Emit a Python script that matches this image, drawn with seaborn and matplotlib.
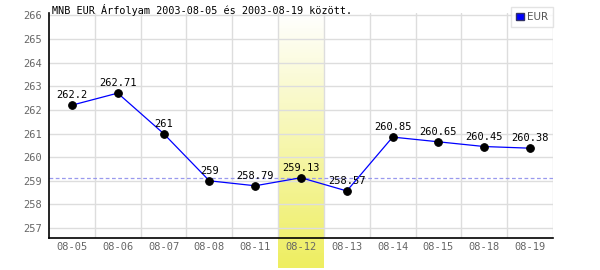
import numpy as np
import pandas as pd
import matplotlib
matplotlib.use("Agg")
import matplotlib.pyplot as plt
import matplotlib.transforms as mtransforms
from matplotlib.patches import Patch
from matplotlib.colors import LinearSegmentedColormap
import seaborn as sns

dates = ["08-05", "08-06", "08-07", "08-08", "08-11", "08-12", "08-13",
         "08-14", "08-15", "08-18", "08-19"]
values = [262.2, 262.71, 261, 259, 258.79, 259.13, 258.57,
          260.85, 260.65, 260.45, 260.38]
labels = ["262.2", "262.71", "261", "259", "258.79", "259.13", "258.57",
          "260.85", "260.65", "260.45", "260.38"]
highlight_date = "08-12"
reference_value = 259.13
yticks = list(range(257, 267))
title = "MNB EUR Árfolyam 2003-08-05 és 2003-08-19 között."
series_name = "EUR"

df = pd.DataFrame({"date": dates, "value": values})

sns.set_theme(style="white")
plt.rcParams["font.family"] = ["DejaVu Sans Mono", "DejaVu Sans"]

fig = plt.figure(figsize=(6, 2.7), dpi=100)
ax = fig.add_axes([49/600, 1-238/270, (553-49)/600, (238-13)/270])

# highlight band with gradient
hi = dates.index(highlight_date)
cmap = LinearSegmentedColormap.from_list("yl", ["#ffffff", "#eeee60"])
grad = np.linspace(0, 1, 256).reshape(-1, 1)
trans = mtransforms.blended_transform_factory(ax.transData, ax.transAxes)
ax.imshow(grad, cmap=cmap, aspect="auto", transform=trans,
          extent=(hi-0.5, hi+0.5, -30/225, 1.0), origin="upper",
          clip_on=False, zorder=0, interpolation="bilinear")

# grid
for yv in yticks:
    ax.axhline(yv, color="#dddddd", lw=1, zorder=1)
for i in range(len(dates)):
    ax.axvline(i + 0.5, color="#dddddd", lw=1, zorder=1)

ax.axhline(reference_value, color="#9999ee", lw=0.9, ls=(0, (3, 2)), zorder=2)

sns.lineplot(data=df, x="date", y="value", ax=ax, color="#0000ff", lw=0.9,
             marker="o", markersize=5.5, markerfacecolor="black",
             markeredgecolor="black", zorder=3, sort=False)

for i, (v, lab) in enumerate(zip(values, labels)):
    ax.annotate(lab, (i, v), xytext=(0, 3.5), textcoords="offset points",
                ha="center", va="bottom", fontsize=7.5, color="black", zorder=4)

ax.set_xlim(-0.5, len(dates) - 0.5)
ax.set_ylim(256.58, 266.1)
ax.set_yticks(yticks)
ax.set_xlabel("")
ax.set_ylabel("")
ax.tick_params(axis="both", length=0, labelsize=7.5, colors="#666666", pad=5)
ax.tick_params(axis="x", pad=3)
for s in ["top", "right"]:
    ax.spines[s].set_visible(False)
for s in ["left", "bottom"]:
    ax.spines[s].set_color("black")
    ax.spines[s].set_linewidth(1.2)

fig.text(52/600, 1-10/270, title, fontsize=7.3, color="black", va="center", ha="left")

leg = fig.legend(handles=[Patch(facecolor="#0000ff", edgecolor="#333366", label=series_name)],
                 loc="upper right", bbox_to_anchor=(553/600, 1-7/270),
                 bbox_transform=fig.transFigure, frameon=True, fancybox=False,
                 edgecolor="#dddddd", fontsize=7.5, handlelength=0.7, handleheight=0.7,
                 handletextpad=0.3, borderpad=0.5, borderaxespad=0,
                 prop={"family": "DejaVu Sans", "size": 7.5})
for t in leg.get_texts():
    t.set_color("#555555")
leg.get_frame().set_linewidth(1)

fig.savefig("out.png", dpi=100)
